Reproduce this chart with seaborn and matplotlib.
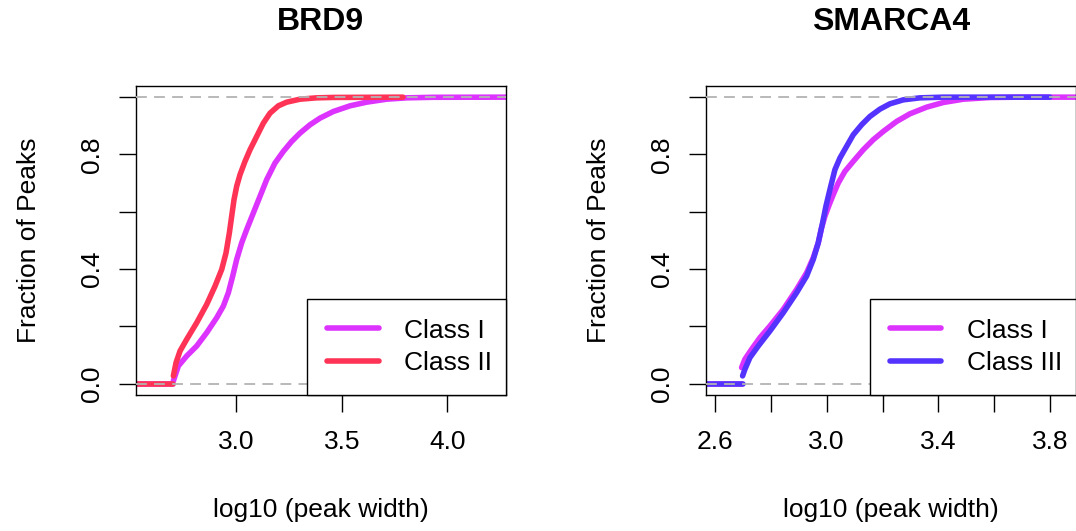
import numpy as np
import pandas as pd
import matplotlib
matplotlib.use("Agg")
import matplotlib.pyplot as plt
import seaborn as sns

# ---------------- data ----------------
panel_titles = ["BRD9", "SMARCA4"]
x_label = "log10 (peak width)"
y_label = "Fraction of Peaks"

# BRD9 – Class I
brd9_c1_x = [2.7016, 2.7253, 2.7648, 2.8122, 2.8596, 2.9070, 2.9385, 2.9622, 2.9828,
             3.0017, 3.0254, 3.0491, 3.0807, 3.1123, 3.1439, 3.1834, 3.2229, 3.2624,
             3.3019, 3.3493, 3.3967, 3.4598, 3.5388, 3.6178, 3.7126, 3.8073, 3.9337,
             4.28]
brd9_c1_y = [0.0092, 0.0615, 0.0963, 0.1311, 0.1776, 0.2299, 0.2705, 0.3170, 0.3750,
             0.4331, 0.4912, 0.5376, 0.5957, 0.6538, 0.7119, 0.7700, 0.8106, 0.8454,
             0.8745, 0.9035, 0.9267, 0.9499, 0.9697, 0.9825, 0.9929, 0.9976, 0.9995,
             1.0]
# BRD9 – Class II
brd9_c2_x = [2.7016, 2.7143, 2.7332, 2.7648, 2.8122, 2.8596, 2.8991, 2.9307, 2.9512,
             2.9670, 2.9780, 2.9891, 3.0017, 3.0175, 3.0412, 3.0649, 3.0965, 3.1281,
             3.1597, 3.1992, 3.2387, 3.3019, 3.3799, 3.4597, 3.79]
brd9_c2_y = [0.0267, 0.0731, 0.1137, 0.1544, 0.2124, 0.2763, 0.3402, 0.3983, 0.4563,
             0.5260, 0.5841, 0.6422, 0.6887, 0.7293, 0.7758, 0.8164, 0.8629, 0.9093,
             0.9441, 0.9697, 0.9825, 0.9929, 0.9976, 0.9990, 1.0]
brd9_start = 2.523

# SMARCA4 – Class I
sm_c1_x = [2.6954, 2.7073, 2.7312, 2.7610, 2.7968, 2.8445, 2.8922, 2.9280, 2.9518,
           2.9697, 2.9817, 2.9936, 3.0091, 3.0234, 3.0413, 3.0652, 3.0950, 3.1308,
           3.1665, 3.2023, 3.2500, 3.2977, 3.3574, 3.4170, 3.4886, 3.5840, 3.6913,
           3.895]
sm_c1_y = [0.0557, 0.0848, 0.1196, 0.1602, 0.2009, 0.2590, 0.3286, 0.3867, 0.4390,
           0.4912, 0.5435, 0.5841, 0.6248, 0.6596, 0.7003, 0.7409, 0.7758, 0.8164,
           0.8513, 0.8803, 0.9151, 0.9418, 0.9650, 0.9813, 0.9929, 0.9987, 1.0,
           1.0]
# SMARCA4 – Class III
sm_c3_x = [2.6990, 2.7073, 2.7252, 2.7551, 2.7968, 2.8445, 2.8922, 2.9280, 2.9518,
           2.9697, 2.9852, 2.9972, 3.0115, 3.0294, 3.0473, 3.0711, 3.0950, 3.1248,
           3.1546, 3.1904, 3.2262, 3.2739, 3.3335, 3.4170, 3.7987]
sm_c3_y = [0.0267, 0.0499, 0.0905, 0.1311, 0.1834, 0.2473, 0.3170, 0.3750, 0.4331,
           0.4912, 0.5609, 0.6190, 0.6771, 0.7468, 0.7874, 0.8280, 0.8687, 0.9035,
           0.9325, 0.9581, 0.9767, 0.9906, 0.9976, 1.0, 1.0]
sm_start = 2.567

xlims = [(2.523, 4.277), (2.567, 3.891)]
xticks = [[3.0, 3.5, 4.0], [2.6, 2.8, 3.0, 3.2, 3.4, 3.6, 3.8]]
xticklabels = [["3.0", "3.5", "4.0"], ["2.6", "", "3.0", "", "3.4", "", "3.8"]]
yticks = [0.0, 0.2, 0.4, 0.6, 0.8, 1.0]
yticklabels = ["0.0", "", "0.4", "", "0.8", ""]

palette = {"Class I": "#DD33FF", "Class II": "#FF3355", "Class III": "#5533FF"}


def make_df(series, start):
    rows = []
    for name, xs, ys in series:
        # flat part at 0 before the first peak width (segment 0)
        rows.append(dict(x=start, y=0.0, cls=name, seg=0))
        rows.append(dict(x=xs[0], y=0.0, cls=name, seg=0))
        for xv, yv in zip(xs, ys):
            rows.append(dict(x=xv, y=yv, cls=name, seg=1))
    return pd.DataFrame(rows)


df_brd9 = make_df([("Class I", brd9_c1_x, brd9_c1_y),
                   ("Class II", brd9_c2_x, brd9_c2_y)], brd9_start)
df_sm = make_df([("Class I", sm_c1_x, sm_c1_y),
                 ("Class III", sm_c3_x, sm_c3_y)], sm_start)
frames = [df_brd9, df_sm]
orders = [["Class I", "Class II"], ["Class I", "Class III"]]

# ---------------- style ----------------
sns.set_style("white")
plt.rcParams["font.family"] = ["Liberation Sans", "DejaVu Sans"]
plt.rcParams["lines.solid_capstyle"] = "round"
plt.rcParams["lines.solid_joinstyle"] = "round"

W, H = 1076, 531
fig = plt.figure(figsize=(W / 100, H / 100), dpi=100)

ax_boxes_px = [(135.7, 85.7, 505.7, 395.0), (705.7, 85.7, 1075.7, 395.0)]
legend_left_px = [307.3, 870.0]

FS = 19
LW = 4.0

for i, (x0, y0, x1, y1) in enumerate(ax_boxes_px):
    ax = fig.add_axes([x0 / W, 1 - y1 / H, (x1 - x0) / W, (y1 - y0) / H])
    sns.lineplot(data=frames[i], x="x", y="y", hue="cls", units="seg",
                 estimator=None, hue_order=orders[i], palette=palette,
                 linewidth=LW, ax=ax, legend=True, sort=False)
    for yv in (0.0, 1.0):
        ax.axhline(yv, color="#B3B3B3", lw=1.3, ls=(0, (6, 4)), zorder=5)

    ax.set_xlim(*xlims[i])
    ax.set_ylim(-0.04, 1.04)
    ax.set_xticks(xticks[i])
    ax.set_xticklabels(xticklabels[i])
    ax.set_yticks(yticks)
    ax.set_yticklabels(yticklabels, rotation=90, va="center")
    ax.tick_params(axis="both", which="major", direction="out", length=12,
                   width=1.0, color="black", labelsize=FS, labelcolor="black",
                   left=True, bottom=True)
    ax.tick_params(axis="x", pad=13)
    ax.tick_params(axis="y", pad=11)
    for sp in ax.spines.values():
        sp.set_visible(True)
        sp.set_color("black")
        sp.set_linewidth(1.0)

    ax.set_xlabel(x_label, fontsize=FS, va="center", color="black")
    ax.set_ylabel(y_label, fontsize=FS, va="center", color="black")
    ax.xaxis.set_label_coords(0.5, -0.371)
    ax.yaxis.set_label_coords(-0.288, 0.5)

    # legend
    handles, labels = ax.get_legend_handles_labels()
    lx = (legend_left_px[i] - x0) / (x1 - x0)
    leg = ax.legend(handles, labels, loc="lower left",
                    bbox_to_anchor=(lx, 0.0, 1 - lx, 0.31), mode="expand",
                    borderaxespad=0.0, fontsize=FS, frameon=True, fancybox=False,
                    edgecolor="black", framealpha=1.0, handlelength=1.95,
                    handletextpad=0.96, borderpad=0.75, labelspacing=0.33)
    leg.get_frame().set_linewidth(1.0)
    for ln in leg.get_lines():
        ln.set_linewidth(LW)
    for t in leg.get_texts():
        t.set_color("black")
    leg.set_zorder(10)

    fig.text((x0 + x1) / 2 / W, 1 - 21.6 / H, panel_titles[i], ha="center",
             va="center", fontsize=23, fontweight="bold", color="black")

fig.savefig("out.png", dpi=100)
